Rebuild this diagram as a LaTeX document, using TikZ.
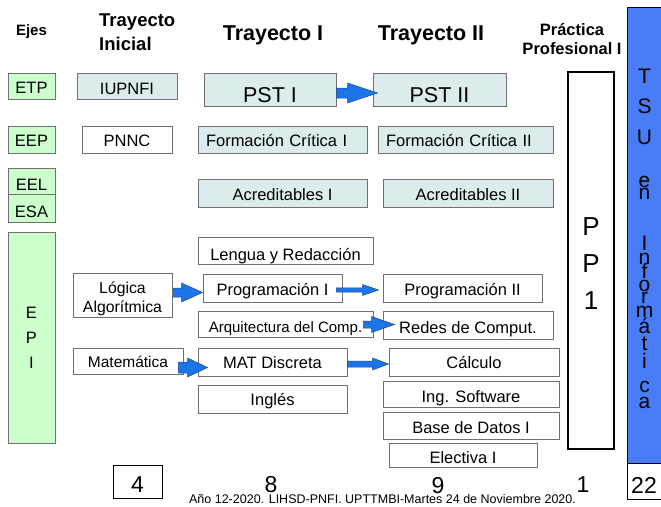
\documentclass[tikz,border=0pt]{standalone}
\usepackage{fontspec}
\setmainfont{Liberation Sans}
\usetikzlibrary{calc}
\definecolor{cyanbox}{HTML}{DCECEC}
\definecolor{greenbox}{HTML}{CCFFCC}
\definecolor{barblue}{HTML}{4A7DF5}
\definecolor{arrblue}{HTML}{1C74E6}
\definecolor{arredge}{HTML}{1A4A9A}
\definecolor{boxedge}{HTML}{707070}
% block arrow: start, end, half shaft, half head, head length
\newcommand\blkarrow[5]{%
  \path[blk] let \p1=(#1), \p2=(#2) in
    (\x1,\y1+#3pt) -- (\x2-#5pt,\y1+#3pt) -- (\x2-#5pt,\y1+#4pt) -- (\x2,\y1)
    -- (\x2-#5pt,\y1-#4pt) -- (\x2-#5pt,\y1-#3pt) -- (\x1,\y1-#3pt) -- cycle;}
% stacked lines, shifted down by #1 without changing the box size
\newcommand\stackdown[2]{\raisebox{-#1}[\height][\depth]{\begin{tabular}{@{}c@{}}#2\end{tabular}}}
\begin{document}
\begin{tikzpicture}[x=1pt,y=-1pt,
  bx/.style={draw=boxedge, line width=0.9pt, inner sep=0pt, font=\fontsize{16.5}{19}\selectfont},
  cbox/.style={bx, fill=cyanbox},
  gbox/.style={bx, fill=greenbox},
  wbox/.style={bx, fill=white},
  tht/.style={text height=#1, text depth=0pt},
  wh/.style 2 args={minimum width=#1, minimum height=#2},
  lft/.style={text width=#1, inner xsep=8pt, align=left},
  hdr/.style={font=\bfseries\fontsize{#1}{#1}\selectfont, anchor=base, inner sep=0pt},
  num/.style={font=\fontsize{23}{23}\selectfont, anchor=base, inner sep=0pt},
  blk/.style={fill=arrblue, draw=arredge, line width=0.5pt, line join=miter},
  vl/.style={font=\fontsize{21}{21}\selectfont, anchor=base, inner sep=0pt},
]
\useasboundingbox (0,0) rectangle (661,506);
\fill[white] (0,0) rectangle (661,506);

% headers
\node[hdr=15] (hejes) at (31.5,35) {Ejes};
\node[hdr=18.5, anchor=base west] (hti1) at (99,27) {Trayecto};
\node[hdr=18.5, anchor=base west] (hti2) at (99,50) {Inicial};
\node[hdr=21.5] (ht1) at (273,40) {Trayecto I};
\node[hdr=21.5] (ht2) at (431,40) {Trayecto II};
\node[hdr=16.5] (hpp1) at (572,35) {Práctica};
\node[hdr=16.5] (hpp2) at (572,54) {Profesional I};

% axes column
\node[gbox, wh={47}{26}, tht=14pt] (etp) at (31.5,86) {ETP};
\node[gbox, wh={47}{27}, tht=13pt] (eep) at (31.5,139.5) {EEP};
\node[gbox, wh={47}{26}, tht=18pt] (eel) at (31.5,181) {EEL};
\node[gbox, wh={47}{28}, tht=18pt] (esa) at (31.5,208) {ESA};
\node[gbox, wh={47}{211}, align=center, font=\fontsize{16.5}{25}\selectfont] (epi) at (31.5,337.5) {E\\P\\I};

% trayecto inicial
\node[cbox, wh={100}{26}, tht=16pt] (iupnfi) at (127,86) {IUPNFI};
\node[wbox, wh={90}{27}, tht=13pt] (pnnc) at (127,139.5) {PNNC};
\node[wbox, wh={99}{44}, font=\fontsize{15.8}{19}\selectfont] (logica) at (122.5,295) {\stackdown{4pt}{Lógica\\Algorítmica}};
\node[wbox, wh={110}{26}, tht=12pt, font=\fontsize{15.5}{19}\selectfont] (mat) at (128,361) {Matemática};

% trayecto I
\node[cbox, wh={132}{33}, tht=25pt, font=\fontsize{21.5}{24}\selectfont] (pst1) at (270,89.5) {PST I};
\node[cbox, wh={169}{27}, tht=13pt, lft=153pt] (fc1) at (282.5,139.5) {Formación Crítica I};
\node[cbox, wh={169}{28}, tht=14pt] (acr1) at (282.5,193) {Acreditables I};
\node[wbox, wh={175}{27}, tht=19pt] (leng) at (285.5,250.5) {Lengua y Redacción};
\node[wbox, wh={139}{28}, tht=14pt] (prog1) at (272.5,288) {Programación I};
\node[wbox, wh={175}{26}, tht=16pt, font=\fontsize{15}{18}\selectfont] (arq) at (285.5,324) {Arquitectura del Comp.};
\node[wbox, wh={149}{28}, tht=12pt] (matd) at (272.5,362) {MAT Discreta};
\node[wbox, wh={149}{28}, tht=12pt] (ingl) at (272.5,399) {Inglés};

% trayecto II
\node[cbox, wh={133}{33}, tht=25pt, font=\fontsize{21.5}{24}\selectfont] (pst2) at (439.5,89.5) {PST II};
\node[cbox, wh={175}{27}, tht=13pt, lft=159pt] (fc2) at (465.5,139.5) {Formación Crítica II};
\node[cbox, wh={170}{28}, tht=14pt] (acr2) at (468,193) {Acreditables II};
\node[wbox, wh={159}{28}, tht=14pt] (prog2) at (462.5,288) {Programación II};
\node[wbox, wh={170}{28}, tht=16pt] (redes) at (468,325) {Redes de Comput.};
\node[wbox, wh={170}{28}, tht=12pt] (calc) at (474,362) {Cálculo};
\node[wbox, wh={176}{26}, tht=16pt] (ingsw) at (471,394) {Ing. Software};
\node[wbox, wh={176}{27}, tht=15pt] (bd) at (471,425.5) {Base de Datos I};
\node[wbox, wh={148}{24}, tht=16pt] (elec) at (463,455) {Electiva I};

% practica profesional
\node[draw=black, line width=1.6pt, fill=white, inner sep=0pt, wh={46}{377}, font=\fontsize{26}{37}\selectfont] (pp) at (591,260.5) {\stackdown{5pt}{P\\P\\1}};

% TSU bar
\node[draw=black, line width=0.8pt, fill=barblue, inner sep=0pt, wh={34}{456}] (tsu) at (644,235) {};
\foreach \ch/\yy [count=\i] in {T/83,S/113,U/144,e/187,n/199,I/250,n/264,f/278,o/291,r/303,m/317,á/333,t/350,i/368,c/392,a/408}
  \node[vl] (tsu\i) at (644.5,\yy) {\ch};

% arrows
\blkarrow{$(pst1.east)+(0,3.5)$}{$(pst2.west)+(5,3.5)$}{5}{10}{30}
\blkarrow{$(logica.east)+(1,-2.5)$}{$(prog1.west)+(0,4.5)$}{4.5}{9.5}{21}
\blkarrow{$(prog1.east)+(-6,2)$}{$(prog2.west)+(-4,2)$}{2.2}{5.5}{16}
\blkarrow{$(arq.east)+(-10,0.5)$}{$(redes.west)+(12,-0.5)$}{3.5}{8}{23}
\blkarrow{$(mat.east)+(-5,6.5)$}{$(matd.west)+(10,5.5)$}{5.5}{9.5}{20}
\blkarrow{$(matd.east)+(0,2)$}{$(calc.west)+(0,2)$}{3}{6}{16}

% totals
\node[draw=black, line width=0.8pt, inner sep=0pt, wh={49}{33}, tht=21pt, font=\fontsize{23}{23}\selectfont] (n4) at (137.5,481.5) {4};
\node[num] (n8) at (271,492) {8};
\node[num] (n9) at (438,493) {9};
\node[num] (n1) at (583,492) {1};
\node[draw=black, line width=0.8pt, inner sep=0pt, wh={34}{36}, tht=24pt, font=\fontsize{23}{23}\selectfont] (n22) at (644,481) {22};

% footer
\node[font=\fontsize{12.5}{14}\selectfont, anchor=base, inner sep=0pt] (foot) at (382.5,503) {Año 12-2020. LIHSD-PNFI. UPTTMBI-Martes 24 de Noviembre 2020.};
\end{tikzpicture}
\end{document}
